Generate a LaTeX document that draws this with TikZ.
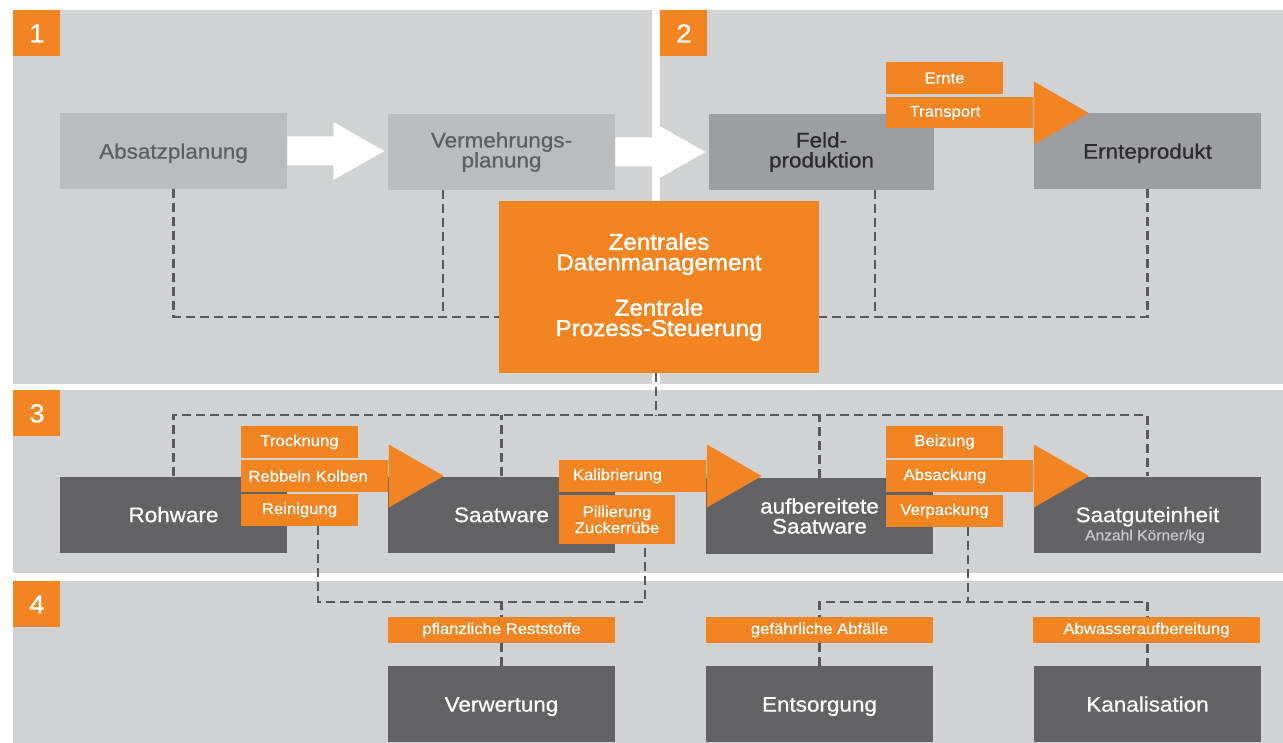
\documentclass[tikz,border=0pt]{standalone}
\usepackage{fontspec}
\setmainfont{Liberation Sans}[FakeStretch=1.07, FakeBold=0.7]
\newfontfamily\heavyfont{Liberation Sans}[FakeStretch=1.05, FakeBold=1.6]
\usetikzlibrary{calc}
\definecolor{panelgray}{HTML}{D1D2D4}
\definecolor{lightbox}{HTML}{BBBCBF}
\definecolor{midbox}{HTML}{9D9EA1}
\definecolor{darkbox}{HTML}{636366}
\definecolor{brandorange}{HTML}{F28422}
\definecolor{linegray}{HTML}{59595C}
\definecolor{lighttext}{HTML}{5E5F62}
\definecolor{midtext}{HTML}{2C2C2E}
\definecolor{subtext}{HTML}{C6C7C9}
\pgfdeclarelayer{bg}
\pgfdeclarelayer{lines}
\pgfsetlayers{bg,lines,main}
% triangular arrow head: colour, base point, half height, length
\newcommand\blockhead[4]{%
  \fill[#1] ($(#2)+(0,-#3)$) -- ($(#2)+(#4,0)$) -- ($(#2)+(0,#3)$) -- cycle;}
% white block arrow: start point, shaft length, shaft half, head half, head length
\newcommand\whitearrow[5]{%
  \fill[white] ($(#1)+(0,-#3)$) -- ($(#1)+(#2,-#3)$) -- ($(#1)+(#2,-#4)$)
    -- ($(#1)+(#2+#5,0)$) -- ($(#1)+(#2,#4)$) -- ($(#1)+(#2,#3)$)
    -- ($(#1)+(0,#3)$) -- cycle;}
\begin{document}
\begin{tikzpicture}[x=0.5pt,y=-0.5pt,
  panel/.style={fill=panelgray},
  badge/.style={fill=brandorange, text=white, minimum width=23.5pt, minimum height=23pt,
    inner sep=0, font=\fontsize{13}{13}\selectfont, anchor=north west},
  box/.style={minimum width=113.5pt, minimum height=38pt, inner sep=0, align=center,
    font=\fontsize{10.5}{10}\selectfont},
  oneline/.style={text height=7.6pt, text depth=0pt},
  planbox/.style={box, fill=lightbox, text=lighttext},
  fieldbox/.style={box, fill=midbox, text=midtext},
  procbox/.style={box, fill=darkbox, text=white},
  tag/.style={fill=brandorange, text=white, inner sep=0, minimum width=58.5pt,
    minimum height=16pt, align=center, font=\fontsize{7.8}{8}\selectfont},
  shaft/.style={fill=brandorange, text=white, inner sep=0, minimum height=16pt,
    text width=73.5pt, align=left, anchor=west, font=\fontsize{7.8}{8}\selectfont},
  dline/.style={draw=linegray, line width=1.2pt, dash pattern=on 4.5pt off 2.5pt},
]
\useasboundingbox (0,0) rectangle (1283,743);

% ---------- panels ----------
\begin{pgfonlayer}{bg}
  \fill[white] (0,0) rectangle (1283,743);
  \fill[panel] (13,10) rectangle (652,384);
  \fill[panel] (660,10) rectangle (1283,384);
  \fill[panel] (13,390) rectangle (1283,573);
  \fill[panel] (13,581) rectangle (1283,743);
\end{pgfonlayer}
\node[badge] (b1) at (13,10) {1};
\node[badge] (b2) at (660,10) {2};
\node[badge] (b3) at (13,390) {3};
\node[badge] (b4) at (13,581) {4};

% ---------- row 1: planning and field ----------
\node[planbox, oneline] (abs) at (173.5,151) {Absatzplanung};
\node[planbox] (verm) at (501.5,152) {Vermehrungs-\\planung};
\node[fieldbox, minimum width=112.5pt] (feld) at (821.5,152) {Feld-\\produktion};
\node[fieldbox, oneline] (ernte) at (1147.5,151) {Ernteprodukt};

\node[fill=brandorange, text=white, minimum width=160pt, minimum height=85.5pt,
  align=center, inner sep=0, font=\heavyfont\fontsize{11.5}{10.2}\selectfont]
  (zentral) at (659,287) {Zentrales\\Datenmanagement\\[11pt]Zentrale\\Prozess-Steuerung};

\whitearrow{abs.east}{46}{14.5}{29}{51}
\whitearrow{verm.east}{39}{14.5}{29}{51}

\node[tag] (erntetag) at (944.5,78) {Ernte};
\node[shaft, minimum height=15.5pt] (transport) at (886,113) {\makebox[58.5pt]{Transport}};
\blockhead{brandorange}{transport.east}{31.5}{55}

% ---------- row 3: processing ----------
\node[procbox, oneline] (roh) at (173.5,514.5) {Rohware};
\node[procbox, oneline] (saat) at (501.5,514.5) {Saatware};
\node[procbox] (aufb) at (819.5,516) {aufbereitete\\Saatware};
\node[procbox, oneline] (sge) at (1147.5,514.5) {Saatguteinheit};
\node[font=\fontsize{7.3}{8}\selectfont, text=subtext, inner sep=0,
  text height=5.25pt, text depth=0pt] (sgesub) at (1145,535) {Anzahl Körner/kg};

\node[tag] (trock) at (299.5,442) {Trocknung};
\node[shaft] (rebbeln) at (241,476) {\hspace*{3.5pt}Rebbeln Kolben};
\blockhead{brandorange}{rebbeln.east}{31.5}{55}
\node[tag] (rein) at (299.5,510) {Reinigung};

\node[shaft] (kalib) at (559,476) {\makebox[58pt]{Kalibrierung}};
\blockhead{brandorange}{kalib.east}{31.5}{55}
\node[tag, minimum width=58pt, minimum height=24.5pt] (pill) at (617,519.5) {Pillierung\\Zuckerrübe};

\node[tag] (beiz) at (944.5,442) {Beizung};
\node[shaft] (absack) at (886,476) {\makebox[58.5pt]{Absackung}};
\blockhead{brandorange}{absack.east}{31.5}{55}
\node[tag] (verp) at (944.5,511) {Verpackung};

% ---------- row 4: residues ----------
\node[tag, minimum width=113.5pt, minimum height=13pt] (pflanz) at (501.5,630) {pflanzliche Reststoffe};
\node[tag, minimum width=113.5pt, minimum height=13pt] (gef) at (819.5,630) {gefährliche Abfälle};
\node[tag, minimum width=113.5pt, minimum height=13pt] (abw) at (1146.5,630) {Abwasseraufbereitung};
\node[procbox, oneline] (verw) at (501.5,704) {Verwertung};
\node[procbox, oneline] (ents) at (819.5,704) {Entsorgung};
\node[procbox, oneline] (kanal) at (1147.5,704) {Kanalisation};

% ---------- dashed data links ----------
\coordinate (jA) at (443,317);
\coordinate (jB) at (875,317);
\coordinate (bus) at (656,415);
\coordinate (wl) at (318,602);
\coordinate (wr) at (645,602);
\coordinate (dj) at (968,602);
\begin{pgfonlayer}{lines}
  \draw[dline] (abs.south) |- (zentral.west |- jA);
  \draw[dline] (verm.south -| jA) -- (jA);
  \draw[dline] (ernte.south) |- (zentral.east |- jB);
  \draw[dline] (feld.south -| jB) -- (jB);
  \draw[dline] ([xshift=-1.5pt]zentral.south) -- (bus);
  \draw[dline] (roh.north) |- (sge.north |- bus) -- (sge.north);
  \draw[dline] (saat.north) -- (saat.north |- bus);
  \draw[dline] (aufb.north) -- (aufb.north |- bus);
  \draw[dline] (rein.south -| wl) -- (wl) -- (wr) -- (pill.south -| wr);
  \draw[dline] (verw.north) -- (verw.north |- wl);
  \draw[dline] (verp.south -| dj) -- (dj);
  \draw[dline] (ents.north) |- (kanal.north |- dj) -- (kanal.north);
\end{pgfonlayer}
\end{tikzpicture}
\end{document}
